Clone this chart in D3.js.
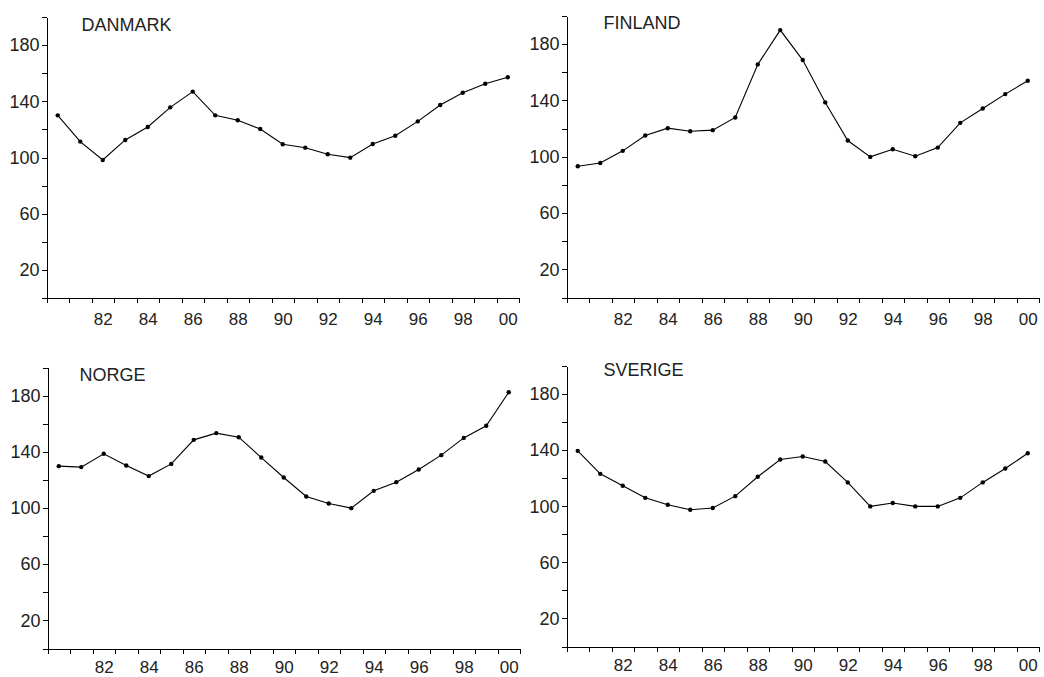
<!DOCTYPE html>
<html>
<head>
<meta charset="utf-8">
<script src="https://cdn.jsdelivr.net/npm/d3@7"></script>
<style>
  body { margin: 0; background: #fff; }
  svg { display: block; }
  text { font-family: "Liberation Sans", Arial, sans-serif; fill: #222; }
  .axis path, .axis line { stroke: #000; stroke-width: 1; shape-rendering: crispEdges; }
  .axis text { font-size: 18px; fill: #222; }
  .axis.xlab text { font-size: 17px; }
  .title { font-size: 18px; }
</style>
</head>
<body>
<div id="chart"></div>
<script>
// år 1980-2000
const years = d3.range(1980, 2001);

// indexserier (1993 = 100)
const danmark = [130.0, 111.3, 98.2, 112.5, 121.7, 135.7, 146.9, 130.0, 126.5, 120.3, 109.4,
  107.0, 102.3, 99.9, 109.6, 115.5, 125.7, 137.4, 146.1, 152.5, 157.1];
const finland = [93.2, 95.6, 104.2, 115.1, 120.3, 118.1, 118.9, 127.9, 165.6, 190.0, 168.7,
  138.6, 111.5, 99.9, 105.3, 100.4, 106.5, 124.1, 134.3, 144.5, 154.0];
const norge = [129.8, 129.1, 138.6, 130.2, 122.7, 131.4, 148.5, 153.3, 150.4, 135.9, 121.7,
  108.2, 103.2, 99.9, 112.2, 118.4, 127.4, 137.6, 149.9, 158.5, 182.4];
const sverige = [139.5, 123.1, 114.6, 106.0, 101.1, 97.5, 98.7, 107.2, 121.0, 133.3, 135.5,
  131.9, 117.0, 99.9, 102.3, 99.9, 99.9, 106.0, 117.0, 126.9, 137.8];

const countries = ["DANMARK", "FINLAND", "NORGE", "SVERIGE"];
const series = [danmark, finland, norge, sverige];

const yTicks = d3.range(0, 201, 20);
const yLabels = [20, 60, 100, 140, 180];
const xLabelYears = d3.range(1982, 2001, 2);

// panelernas placering i bilden
const panels = [
  { x0: 46.5, x1: 519, top: 17, bottom: 298, tx: 35, ty: 14, pad: 15 },
  { x0: 566.5, x1: 1039, top: 16, bottom: 297.5, tx: 37, ty: 13, pad: 15 },
  { x0: 47.5, x1: 520, top: 367.5, bottom: 648.5, tx: 32, ty: 13, pad: 12 },
  { x0: 566.5, x1: 1039, top: 366, bottom: 646.5, tx: 37, ty: 10, pad: 12 }
];

const width = 1044, height = 677;

const svg = d3.select("#chart").append("svg")
    .attr("width", width)
    .attr("height", height);

countries.forEach((name, i) => {
  const p = panels[i];
  const values = series[i];

  const x = d3.scaleLinear()
      .domain([1979.5, 2000.5])
      .range([p.x0, p.x1]);

  const y = d3.scaleLinear()
      .domain([0, 200])
      .range([p.bottom, p.top]);

  const g = svg.append("g");

  // x-axel: streck vid årsgränser, etiketter mitt i året
  g.append("g")
      .attr("class", "axis")
      .attr("transform", `translate(0,${p.bottom})`)
      .call(d3.axisBottom(x)
          .tickValues(d3.range(1979.5, 2001, 1))
          .tickSize(5)
          .tickSizeOuter(0)
          .tickFormat(""))
      .call(a => a.select(".domain").attr("d", `M${p.x0 - 2},0.5H${p.x1}`));

  g.append("g")
      .attr("class", "axis xlab")
      .attr("transform", `translate(0,${p.bottom})`)
      .call(d3.axisBottom(x)
          .tickValues(xLabelYears)
          .tickSize(0)
          .tickPadding(p.pad)
          .tickFormat(d => d3.format("02d")(d % 100)))
      .call(a => a.select(".domain").remove());

  // y-axel
  g.append("g")
      .attr("class", "axis")
      .attr("transform", `translate(${p.x0},0)`)
      .call(d3.axisLeft(y)
          .tickValues(yTicks)
          .tickSize(5)
          .tickSizeOuter(0)
          .tickPadding(2)
          .tickFormat(d => yLabels.includes(d) ? d : ""));

  g.append("text")
      .attr("class", "title")
      .attr("x", p.x0 + p.tx)
      .attr("y", p.top + p.ty)
      .text(name);

  const line = d3.line()
      .x((d, j) => x(years[j]))
      .y(d => y(d));

  g.append("path")
      .datum(values)
      .attr("d", line)
      .attr("fill", "none")
      .attr("stroke", "#000")
      .attr("stroke-width", 1.1);

  g.selectAll(".pt")
      .data(values)
      .enter()
      .append("circle")
      .attr("class", "pt")
      .attr("cx", (d, j) => x(years[j]))
      .attr("cy", d => y(d))
      .attr("r", 2.2)
      .attr("fill", "#000");
});
</script>
</body>
</html>
